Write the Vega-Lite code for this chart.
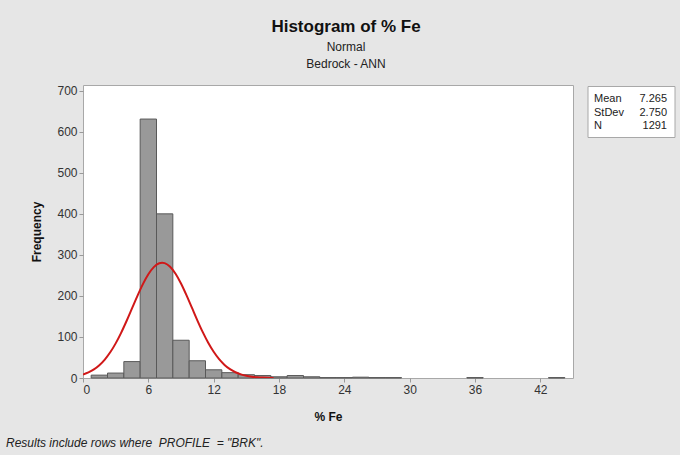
{
  "$schema": "https://vega.github.io/schema/vega-lite/v6.json",
  "width": 490,
  "height": 293,
  "autosize": {"type": "none"},
  "padding": {"left": 83, "top": 85, "right": 107, "bottom": 77},
  "background": "#e6e6e6",
  "config": {
    "font": "Liberation Sans",
    "view": {"stroke": "#a8a8a8", "fill": "white", "strokeWidth": 1}
  },
  "title": {
    "text": "Histogram of % Fe",
    "subtitle": ["Normal", "Bedrock - ANN"],
    "fontSize": 17,
    "fontWeight": "bold",
    "color": "#111111",
    "subtitleFontSize": 12,
    "subtitleColor": "#222222",
    "subtitlePadding": 6,
    "subtitleLineHeight": 17,
    "anchor": "middle",
    "dx": 18,
    "offset": 14
  },
  "datasets": {
    "bins": [
      {"lo": 0.75, "hi": 2.25, "count": 7},
      {"lo": 2.25, "hi": 3.75, "count": 12},
      {"lo": 3.75, "hi": 5.25, "count": 40},
      {"lo": 5.25, "hi": 6.75, "count": 631},
      {"lo": 6.75, "hi": 8.25, "count": 400},
      {"lo": 8.25, "hi": 9.75, "count": 92},
      {"lo": 9.75, "hi": 11.25, "count": 42},
      {"lo": 11.25, "hi": 12.75, "count": 20},
      {"lo": 12.75, "hi": 14.25, "count": 13},
      {"lo": 14.25, "hi": 15.75, "count": 8},
      {"lo": 15.75, "hi": 17.25, "count": 6},
      {"lo": 17.25, "hi": 18.75, "count": 3},
      {"lo": 18.75, "hi": 20.25, "count": 6},
      {"lo": 20.25, "hi": 21.75, "count": 3},
      {"lo": 21.75, "hi": 23.25, "count": 1},
      {"lo": 23.25, "hi": 24.75, "count": 1},
      {"lo": 24.75, "hi": 26.25, "count": 2},
      {"lo": 26.25, "hi": 27.75, "count": 1},
      {"lo": 27.75, "hi": 29.25, "count": 1},
      {"lo": 35.25, "hi": 36.75, "count": 1},
      {"lo": 42.75, "hi": 44.25, "count": 1}
    ],
    "curve": [
      {"x": 0, "f": 8.57}, {"x": 0.5, "f": 13.63}, {"x": 1, "f": 20.97}, {"x": 1.5, "f": 31.21},
      {"x": 2, "f": 44.95}, {"x": 2.5, "f": 62.61}, {"x": 3, "f": 84.4}, {"x": 3.5, "f": 110.05},
      {"x": 4, "f": 138.84}, {"x": 4.5, "f": 169.47}, {"x": 5, "f": 200.13}, {"x": 5.5, "f": 228.65},
      {"x": 6, "f": 252.73}, {"x": 6.5, "f": 270.27}, {"x": 7, "f": 279.63}, {"x": 7.265, "f": 280.93},
      {"x": 7.5, "f": 279.91}, {"x": 8, "f": 271.07}, {"x": 8.5, "f": 253.98}, {"x": 9, "f": 230.24},
      {"x": 9.5, "f": 201.92}, {"x": 10, "f": 171.32}, {"x": 10.5, "f": 140.64}, {"x": 11, "f": 111.7},
      {"x": 11.5, "f": 85.82}, {"x": 12, "f": 63.8}, {"x": 12.5, "f": 45.89}, {"x": 13, "f": 31.93},
      {"x": 13.5, "f": 21.5}, {"x": 14, "f": 14.0}, {"x": 14.5, "f": 8.82}, {"x": 15, "f": 5.38},
      {"x": 15.5, "f": 3.17}, {"x": 16, "f": 1.81}, {"x": 16.5, "f": 1.0}, {"x": 17, "f": 0.53},
      {"x": 17.5, "f": 0.28}
    ],
    "stats": [
      {"stat": "Mean", "value": "7.265"},
      {"stat": "StDev", "value": "2.750"},
      {"stat": "N", "value": "1291"}
    ],
    "note": [
      {"text": "Results include rows where \u00a0PROFILE \u00a0= \"BRK\"."}
    ]
  },
  "resolve": {"scale": {"y": "independent"}},
  "layer": [
    {
      "data": {"name": "bins"},
      "mark": {"type": "rect", "fill": "#999999", "stroke": "#595959", "strokeWidth": 1},
      "encoding": {
        "x": {
          "field": "lo", "type": "quantitative",
          "scale": {"domain": [0, 45], "nice": false, "zero": false},
          "axis": {
            "title": "% Fe", "values": [0, 6, 12, 18, 24, 30, 36, 42],
            "grid": false, "domain": false, "tickColor": "#999999", "tickSize": 4,
            "labelFontSize": 12, "labelColor": "#333333", "labelPadding": 2,
            "titleFontSize": 12, "titleFontWeight": "bold", "titleColor": "#111111", "titlePadding": 16
          }
        },
        "x2": {"field": "hi"},
        "y": {
          "field": "count", "type": "quantitative",
          "scale": {"domain": [0, 714], "nice": false},
          "axis": {
            "title": "Frequency", "values": [0, 100, 200, 300, 400, 500, 600, 700],
            "grid": false, "domain": false, "tickColor": "#999999", "tickSize": 4,
            "labelFontSize": 12, "labelColor": "#333333", "labelPadding": 2,
            "titleFontSize": 12, "titleFontWeight": "bold", "titleColor": "#111111", "titlePadding": 13
          }
        },
        "y2": {"datum": 0}
      }
    },
    {
      "data": {"name": "curve"},
      "mark": {"type": "line", "color": "#d01818", "strokeWidth": 2, "interpolate": "monotone", "clip": true},
      "encoding": {
        "x": {"field": "x", "type": "quantitative"},
        "y": {"field": "f", "type": "quantitative", "scale": {"domain": [0, 714], "nice": false}, "axis": null}
      }
    },
    {
      "data": {"values": [{}]},
      "mark": {"type": "rect", "fill": "white", "stroke": "#a8a8a8", "strokeWidth": 1},
      "encoding": {
        "x": {"value": 505}, "x2": {"value": 592},
        "y": {"value": 1.5}, "y2": {"value": 52.5}
      }
    },
    {
      "data": {"name": "stats"},
      "mark": {"type": "text", "align": "left", "baseline": "middle", "fontSize": 11, "color": "#222222"},
      "encoding": {
        "x": {"value": 511},
        "y": {"field": "stat", "type": "ordinal", "scale": {"type": "point", "padding": 0, "domain": ["Mean", "StDev", "N"], "range": [14, 41]}, "axis": null},
        "text": {"field": "stat"}
      }
    },
    {
      "data": {"name": "stats"},
      "mark": {"type": "text", "align": "right", "baseline": "middle", "fontSize": 11, "color": "#222222"},
      "encoding": {
        "x": {"value": 584},
        "y": {"field": "stat", "type": "ordinal", "scale": {"type": "point", "padding": 0, "domain": ["Mean", "StDev", "N"], "range": [14, 41]}, "axis": null},
        "text": {"field": "value"}
      }
    },
    {
      "data": {"name": "note"},
      "mark": {"type": "text", "align": "left", "baseline": "middle", "fontSize": 12, "fontStyle": "italic", "color": "#222222"},
      "encoding": {
        "x": {"value": -77},
        "y": {"value": 358},
        "text": {"field": "text"}
      }
    }
  ]
}
